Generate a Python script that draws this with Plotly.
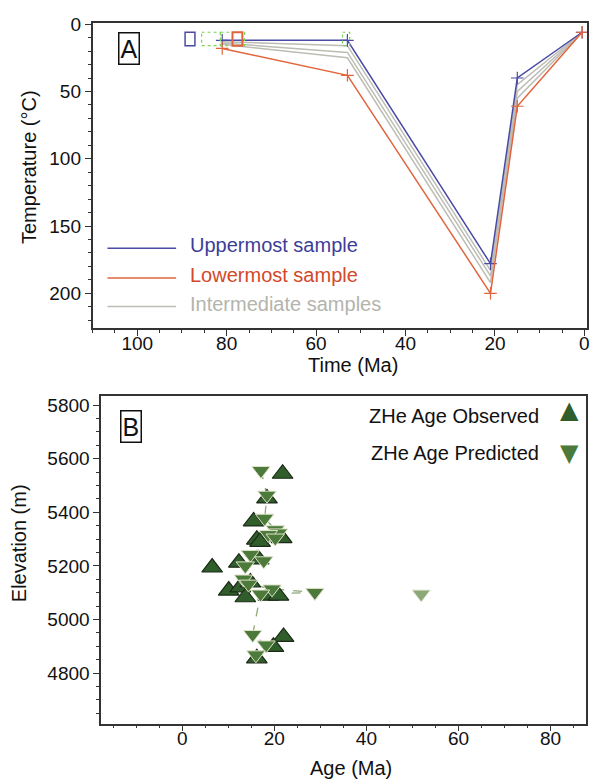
import numpy as np
import plotly.graph_objects as go

# ---------------- Panel A data ----------------
time_ma = [81, 53, 21, 15, 0.5]
upper_T = [12, 12, 178, 40, 6]
lower_T = [18, 38, 200, 61, 6]
inter_T = [
    [13, 16, 183, 45, 6],
    [14, 21, 187, 50, 6],
    [15, 25, 192, 55, 6],
]
# constraint boxes (time min/max, temperature min/max, colour key)
box_t0 = [89.3, 85.6, 81.4, 54.1, 78.7]
box_t1 = [87.1, 81.4, 76.0, 52.5, 76.5]
box_T0 = [6, 6, 6, 6, 6]
box_T1 = [16, 16, 16, 16, 16]
box_kind = ["upper", "green", "green", "green", "lower"]

# ---------------- Panel B data ----------------
obs_age = [21.8, 18.4, 15.5, 16.2, 16.9, 21.6, 12.3, 16.6, 6.5, 10.1, 12.6, 14.8,
           13.7, 18.7, 20.9, 22.0, 19.8, 16.2]
obs_elev = [5544, 5452, 5366, 5298, 5290, 5304, 5212, 5224, 5194, 5108, 5120, 5138,
            5083, 5089, 5089, 4935, 4898, 4855]
pred_age = [17.1, 18.4, 17.9, 20.2, 20.9, 18.7, 20.2, 14.8, 17.7, 13.7, 13.3, 14.4,
            19.5, 28.8, 17.0, 15.3, 18.2, 16.0]
pred_elev = [5556, 5464, 5378, 5335, 5323, 5317, 5304, 5243, 5219, 5200, 5151, 5132,
             5114, 5101, 5095, 4944, 4905, 4868]
outlier_age = [51.9]
outlier_elev = [5095]

xA_ticks = [0, 20, 40, 60, 80, 100]
yA_ticks = [0, 50, 100, 150, 200]
xB_ticks = [0, 20, 40, 60, 80]
yB_ticks = [4800, 5000, 5200, 5400, 5600, 5800]

BLUE = "#4b4ba6"
ORANGE = "#e2643c"
GREY = "#bdbdb5"
GREEN_BOX = "#7fd35a"
OBS_FILL = "#2f5e2a"
PRED_FILL = "#4b7a3a"
FONT = "Liberation Sans, Arial, Helvetica, sans-serif"

W, H = 601, 784
def px(x):
    return x / W
def py(y):
    return 1 - y / H

fig = go.Figure()

# Panel A lines
for T in inter_T:
    fig.add_trace(go.Scatter(x=time_ma, y=T, mode="lines", line=dict(color=GREY, width=1.5),
                             xaxis="x", yaxis="y", showlegend=False, hoverinfo="skip"))
fig.add_trace(go.Scatter(x=time_ma, y=upper_T, mode="lines+markers",
                         line=dict(color=BLUE, width=1.5),
                         marker=dict(symbol="cross-thin", size=9, line=dict(color=BLUE, width=1.2)),
                         xaxis="x", yaxis="y", showlegend=False))
fig.add_trace(go.Scatter(x=time_ma, y=lower_T, mode="lines+markers",
                         line=dict(color=ORANGE, width=1.5),
                         marker=dict(symbol="cross-thin", size=9, line=dict(color=ORANGE, width=1.2)),
                         xaxis="x", yaxis="y", showlegend=False))

shapes = []
for t0, t1, T0, T1, k in zip(box_t0, box_t1, box_T0, box_T1, box_kind):
    if k == "upper":
        ln = dict(color=BLUE, width=1.5)
    elif k == "lower":
        ln = dict(color=ORANGE, width=2)
    else:
        ln = dict(color=GREEN_BOX, width=1.2, dash="dot")
    shapes.append(dict(type="rect", xref="x", yref="y", x0=t0, x1=t1, y0=T0, y1=T1,
                       line=ln, fillcolor="rgba(0,0,0,0)", layer="above"))

# Panel B
order = np.argsort(pred_elev)[::-1]
fig.add_trace(go.Scatter(x=np.array(pred_age)[order], y=np.array(pred_elev)[order], mode="lines",
                         line=dict(color="#8fa878", width=1.3, dash="dash"),
                         xaxis="x2", yaxis="y2", showlegend=False, hoverinfo="skip"))
fig.add_trace(go.Scatter(x=obs_age, y=obs_elev, mode="markers",
                         marker=dict(symbol="triangle-up", size=18, color=OBS_FILL,
                                     line=dict(color="#1d2a18", width=1.2)),
                         xaxis="x2", yaxis="y2", showlegend=False))
fig.add_trace(go.Scatter(x=pred_age, y=pred_elev, mode="markers",
                         marker=dict(symbol="triangle-down", size=16, color=PRED_FILL,
                                     line=dict(color="#dfe2c8", width=1)),
                         xaxis="x2", yaxis="y2", showlegend=False))
fig.add_trace(go.Scatter(x=outlier_age, y=outlier_elev, mode="markers",
                         marker=dict(symbol="triangle-down", size=16, color="#8ba878",
                                     line=dict(color="#e8ecd8", width=1)),
                         xaxis="x2", yaxis="y2", showlegend=False))

axis_common = dict(showline=True, linecolor="#333333", linewidth=1.5, mirror=True,
                   ticks="outside", ticklen=6, tickwidth=1.2, tickcolor="#333333",
                   showgrid=False, zeroline=False,
                   tickfont=dict(family=FONT, size=19, color="#111111"))

fig.update_layout(
    width=W, height=H, margin=dict(l=0, r=0, t=0, b=0),
    paper_bgcolor="white", plot_bgcolor="white",
    font=dict(family=FONT, color="#111111"),
    xaxis=dict(domain=[px(93), px(590)], range=[110, -0.6], tickvals=xA_ticks,
               minor=dict(dtick=5, ticklen=3, ticks="outside", tickcolor="#333333"),
               anchor="y", ticklabelstandoff=-9, **axis_common),
    yaxis=dict(domain=[py(323), py(14)], range=[226, -1], tickvals=yA_ticks,
               minor=dict(dtick=10, ticklen=3, ticks="outside", tickcolor="#333333"),
               anchor="x", **axis_common),
    xaxis2=dict(domain=[px(101.7), px(589)], range=[-17.6, 87.7], tickvals=xB_ticks,
                minor=dict(dtick=5, ticklen=3, ticks="outside", tickcolor="#333333"),
                anchor="y2", ticklabelstandoff=-9, **axis_common),
    yaxis2=dict(domain=[py(723), py(391)], range=[4611, 5836], tickvals=yB_ticks,
                minor=dict(dtick=50, ticklen=3, ticks="outside", tickcolor="#333333"),
                anchor="x2", **axis_common),
    shapes=shapes,
)

ann = []
# axis titles
ann.append(dict(text="Temperature (°C)", x=px(29), y=py(160), textangle=-90,
                font=dict(size=20)))
ann.append(dict(text="Time (Ma)", x=px(355), y=py(360), font=dict(size=20)))
ann.append(dict(text="Elevation (m)", x=px(18.5), y=py(540), textangle=-90,
                font=dict(size=20)))
ann.append(dict(text="Age (Ma)", x=px(353), y=py(768), font=dict(size=20)))
# panel labels
ann.append(dict(text="A", x=px(129.5), y=py(40), font=dict(size=25),
                bordercolor="#111111", borderwidth=1.5, borderpad=1, bgcolor="white"))
ann.append(dict(text="B", x=px(132), y=py(422), font=dict(size=25),
                bordercolor="#111111", borderwidth=1.5, borderpad=1, bgcolor="white"))
# panel A legend
legA = [("Uppermost sample", BLUE, "#3d3d98", 242),
        ("Lowermost sample", ORANGE, "#d2482a", 272),
        ("Intermediate samples", GREY, "#b4b4ac", 301)]
for label, lc, tc, yy in legA:
    shapes.append(dict(type="line", xref="paper", yref="paper", x0=px(108), x1=px(177),
                       y0=py(yy), y1=py(yy), line=dict(color=lc, width=1.5)))
    ann.append(dict(text=label, x=px(189), y=py(yy - 3), xanchor="left",
                    font=dict(size=20, color=tc)))
# panel B legend
ann.append(dict(text="ZHe Age Observed", x=px(544), y=py(412), xanchor="right",
                font=dict(size=20)))
ann.append(dict(text="ZHe Age Predicted", x=px(544), y=py(449), xanchor="right",
                font=dict(size=20)))
ann.append(dict(text="▲", x=px(572), y=py(406), font=dict(size=24, color=OBS_FILL,
                                                        family="DejaVu Sans")))
ann.append(dict(text="▼", x=px(572), y=py(449), font=dict(size=24, color=PRED_FILL,
                                                        family="DejaVu Sans")))
for a in ann:
    a.setdefault("xref", "paper")
    a.setdefault("yref", "paper")
    a.setdefault("showarrow", False)
    a.setdefault("xanchor", "center")
    a.setdefault("yanchor", "middle")
fig.update_layout(annotations=ann, shapes=shapes)

fig.write_html("out.html", config={"responsive": False, "displayModeBar": False},
               post_script="document.body.style.margin='0px';document.body.style.overflow='hidden';")
